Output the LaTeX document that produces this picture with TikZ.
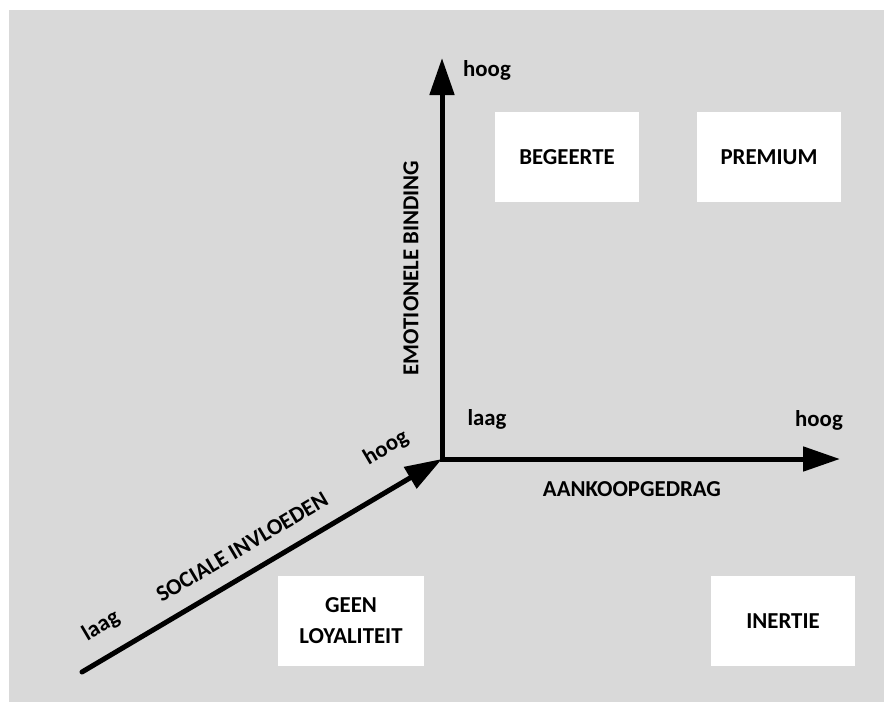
\documentclass[tikz,border=0pt]{standalone}
\usepackage{fontspec}
\setmainfont{Carlito}
\usetikzlibrary{arrows.meta}
\definecolor{bggrey}{HTML}{D9D9D9}
\begin{document}
\begin{tikzpicture}[x=1pt,y=-1pt,
  axis/.style={line width=5pt,-{Triangle[length=37pt,width=24pt]}},
  quad/.style={fill=white,minimum width=144pt,minimum height=90pt,inner sep=0pt,align=center,font=\fontsize{22.8}{31}\selectfont\bfseries},
  lbl/.style={inner sep=0pt,font=\fontsize{22.8}{26}\selectfont\bfseries}]
\useasboundingbox (0,0) rectangle (884,702);
\fill[white] (0,0) rectangle (884,702);
\fill[bggrey] (9,10) rectangle (884,702);
% coordinates
\coordinate (O) at (442,459);
\coordinate (top) at (442,58);
\coordinate (right) at (840,459);
\coordinate (start) at (82,672);
% quadrant boxes
\node[quad] (beg) at (567,157) {BEGEERTE};
\node[quad] (prem) at (769,157) {PREMIUM};
\node[quad,minimum width=146pt] (geen) at (351,621) {GEEN\\LOYALITEIT};
\node[quad] (inert) at (783,621) {INERTIE};
% axes
\draw[line width=5pt,miter limit=10,{Triangle[length=37pt,width=24pt]}-{Triangle[length=37pt,width=24pt]}] (top) -- (O) -- (right);
\draw[axis,line cap=round] (start) -- (O);
% labels
\node[lbl] (h1) at (487,70) {hoog};
\node[lbl,rotate=90] (emo) at (411,268) {EMOTIONELE BINDING};
\node[lbl] (l1) at (487,419) {laag};
\node[lbl] (h2) at (819,420) {hoog};
\node[lbl] (aank) at (632,489) {AANKOOPGEDRAG};
\node[lbl,rotate=30.6] (h3) at (386,448) {hoog};
\node[lbl,rotate=30.6] (soc) at (242,547) {SOCIALE INVLOEDEN};
\node[lbl,rotate=30.6] (l3) at (101,626) {laag};
\end{tikzpicture}
\end{document}
